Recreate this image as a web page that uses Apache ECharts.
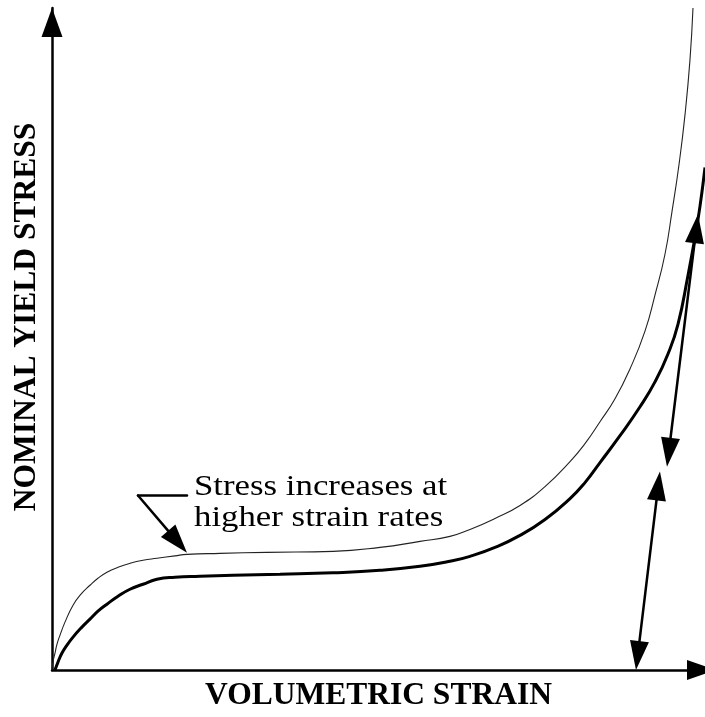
<!DOCTYPE html>
<html>
<head>
<meta charset="utf-8">
<script src="https://cdn.jsdelivr.net/npm/echarts@6/dist/echarts.min.js"></script>
<style>
  html, body { margin: 0; padding: 0; background: #fff; }
  #chart { width: 705px; height: 717px; }
</style>
</head>
<body>
<div id="chart"></div>
<script>
// Normalised volumetric strain (0-100) vs nominal yield stress (0-100).

// Upper, thin curve: loading at the higher strain rate
const higherRateCurve = [
  [0, 0], [0.15, 1.2], [0.46, 2.56], [0.77, 3.92], [1.23, 5.27], [1.99, 7.23],
  [3.22, 9.79], [4.44, 11.45], [5.82, 12.8], [7.04, 13.86], [8.42, 14.76],
  [10.11, 15.51], [11.94, 16.11], [13.94, 16.57], [16.08, 16.87], [18.84, 17.24],
  [20.67, 17.47], [25.73, 17.62], [32.92, 17.77], [43.03, 17.92], [50.23, 18.52],
  [56.36, 19.43], [60.95, 20.18], [64.01, 21.23], [67.84, 22.89], [71.67, 24.85],
  [75.5, 27.71], [79.33, 31.48], [81.62, 34.19], [83.92, 37.5], [86.22, 40.96],
  [88.51, 45.48], [90.81, 51.2], [92.34, 56.63], [93.87, 62.8], [94.95, 69.28],
  [96.02, 76.36], [96.94, 83.89], [97.7, 92.17], [98.16, 100]
];

// Lower, thick curve: loading at the lower strain rate
const lowerRateCurve = [
  [0.46, 0], [0.92, 1.2], [1.53, 2.56], [2.3, 3.77], [3.22, 4.97], [4.44, 6.33],
  [5.82, 7.68], [7.04, 8.89], [8.42, 9.94], [10.11, 11.14], [11.94, 12.2],
  [13.94, 12.95], [16.08, 13.7], [18.84, 14.01], [22.66, 14.16], [27.72, 14.31],
  [34.92, 14.46], [43.03, 14.68], [50.23, 15.06], [56.36, 15.66], [60.95, 16.42],
  [64.01, 17.17], [67.84, 18.52], [71.67, 20.33], [75.5, 22.74], [79.33, 25.9],
  [81.62, 28.31], [83.92, 31.33], [86.98, 35.39], [90.05, 39.76], [92.34, 43.52],
  [94.33, 47.74], [95.87, 52.26], [97.4, 59.64], [98.47, 65.36], [99.23, 70.03],
  [100, 75.9]
];

// Arrow segments: [x1, y1, x2, y2, headAtStart, headAtEnd]
const arrowSegments = [
  [89.43, 0, 93.1, 29.97, 1, 1],        // axis to lower tip
  [94.18, 30.72, 98.93, 68.83, 1, 1],   // upper span
  [20.67, 26.36, 13.17, 26.36, 0, 0],   // pointer shoulder
  [13.17, 26.36, 20.67, 17.7, 0, 1]     // pointer to the upper curve
];

const annotationLines = ['Stress increases at', 'higher strain rates'];
const xAxisTitle = 'VOLUMETRIC STRAIN';
const yAxisTitle = 'NOMINAL YIELD STRESS';

const SERIF = "'Liberation Serif', 'Times New Roman', 'DejaVu Serif', serif";
const HEAD_LEN = 29;
const HEAD_W = 19;

function renderArrow(params, api) {
  const a = api.coord([api.value(0), api.value(1)]);
  const b = api.coord([api.value(2), api.value(3)]);
  const hs = api.value(4), he = api.value(5);
  const dx = b[0] - a[0], dy = b[1] - a[1];
  const len = Math.hypot(dx, dy);
  const ux = dx / len, uy = dy / len;
  const nx = -uy, ny = ux;
  const s = hs ? [a[0] + ux * HEAD_LEN * 0.7, a[1] + uy * HEAD_LEN * 0.7] : a;
  const e = he ? [b[0] - ux * HEAD_LEN * 0.7, b[1] - uy * HEAD_LEN * 0.7] : b;
  const children = [{
    type: 'line',
    shape: { x1: s[0], y1: s[1], x2: e[0], y2: e[1] },
    style: { stroke: '#000', lineWidth: 2.5, lineCap: 'round' }
  }];
  function head(tip, dirx, diry) {
    const bx = tip[0] - dirx * HEAD_LEN, by = tip[1] - diry * HEAD_LEN;
    return {
      type: 'polygon',
      shape: { points: [tip, [bx + nx * HEAD_W / 2, by + ny * HEAD_W / 2], [bx - nx * HEAD_W / 2, by - ny * HEAD_W / 2]] },
      style: { fill: '#000' }
    };
  }
  if (he) children.push(head(b, ux, uy));
  if (hs) children.push(head(a, -ux, -uy));
  return { type: 'group', children: children };
}

const chart = echarts.init(document.getElementById('chart'), null, { renderer: 'canvas' });

chart.setOption({
  animation: false,
  backgroundColor: '#fff',
  grid: { left: 52, right: 0, top: 8, bottom: 45, containLabel: false },
  xAxis: {
    type: 'value', min: 0, max: 100,
    name: xAxisTitle, nameLocation: 'middle', nameGap: 10,
    nameTextStyle: { fontFamily: SERIF, fontWeight: 'bold', fontSize: 31.5, color: '#000' },
    axisLine: {
      show: true, onZero: false,
      symbol: ['none', 'triangle'], symbolSize: [20, 29], symbolOffset: [0, -3.5],
      lineStyle: { color: '#000', width: 2.5 }
    },
    axisTick: { show: false }, axisLabel: { show: false }, splitLine: { show: false }
  },
  yAxis: {
    type: 'value', min: 0, max: 100,
    axisLine: {
      show: true, onZero: false,
      symbol: ['none', 'triangle'], symbolSize: [21, 29], symbolOffset: [0, -14.5],
      lineStyle: { color: '#000', width: 2.5 }
    },
    axisTick: { show: false }, axisLabel: { show: false }, splitLine: { show: false }
  },
  series: [
    {
      name: 'Higher strain rate', type: 'line', data: higherRateCurve,
      showSymbol: false, smooth: 0.5,
      lineStyle: { color: '#222', width: 1.1 }, z: 3
    },
    {
      name: 'Lower strain rate', type: 'line', data: lowerRateCurve,
      showSymbol: false, smooth: 0.5,
      lineStyle: { color: '#000', width: 3 }, z: 3
    },
    {
      type: 'custom', renderItem: renderArrow, data: arrowSegments,
      encode: { x: [0, 2], y: [1, 3] }, clip: false, silent: true, z: 5
    }
  ],
  graphic: [
    {
      type: 'text', x: 194, y: 472, scaleX: 1.2,
      style: {
        text: annotationLines.join('\n'), font: '29px ' + SERIF, fill: '#000',
        lineHeight: 31, verticalAlign: 'top', align: 'left'
      }
    },
    {
      type: 'text', x: 26.5, y: 317, rotation: Math.PI / 2,
      style: {
        text: yAxisTitle, font: 'bold 31.5px ' + SERIF, fill: '#000',
        align: 'center', verticalAlign: 'middle'
      }
    }
  ]
});
</script>
</body>
</html>
